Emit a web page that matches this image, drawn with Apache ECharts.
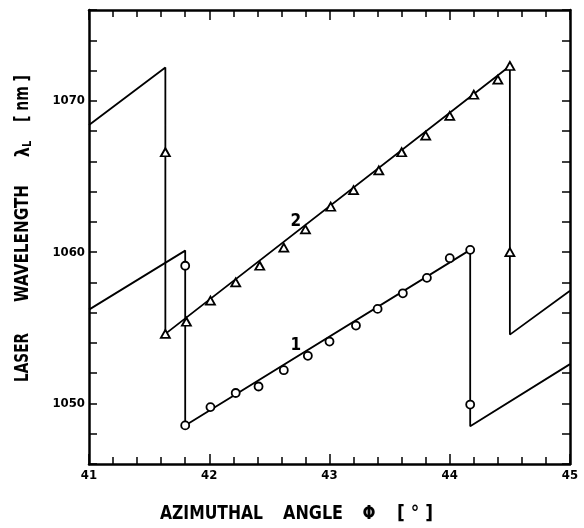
<!DOCTYPE html>
<html><head><meta charset="utf-8">
<script src="https://cdn.jsdelivr.net/npm/echarts@6/dist/echarts.min.js"></script>
<style>html,body{margin:0;padding:0;background:#fff}#c{width:584px;height:528px}</style>
</head><body><div id="c"></div>
<script>
// ---- data ----
// sawtooth line belonging to curve 2 (triangles), drawn in order
const branch2X = [41, 41.635, 41.635, 44.5, 44.5, 45];
const branch2Y = [1068.4, 1072.2, 1054.6, 1072.3, 1054.55, 1057.45];
// sawtooth line belonging to curve 1 (circles)
const branch1X = [41, 41.8, 41.8, 44.17, 44.17, 45];
const branch1Y = [1056.2, 1060.1, 1048.55, 1060.15, 1048.5, 1052.6];
// measured points, curve 2 (triangles)
const triX = [41.635, 41.635, 41.81, 42.01, 42.22, 42.42, 42.62, 42.80, 43.01, 43.20, 43.41, 43.60, 43.80, 44.00, 44.20, 44.40, 44.50, 44.50];
const triY = [1066.6, 1054.6, 1055.4, 1056.8, 1058.0, 1059.1, 1060.3, 1061.5, 1063.0, 1064.1, 1065.4, 1066.6, 1067.7, 1069.0, 1070.4, 1071.4, 1072.3, 1060.0];
// measured points, curve 1 (circles)
const circX = [41.8, 41.8, 42.01, 42.22, 42.41, 42.62, 42.82, 43.00, 43.22, 43.40, 43.61, 43.81, 44.00, 44.17, 44.17];
const circY = [1059.1, 1048.55, 1049.76, 1050.69, 1051.12, 1052.2, 1053.15, 1054.09, 1055.15, 1056.25, 1057.28, 1058.3, 1059.6, 1060.15, 1049.93];
// curve labels
const curveNames = ['1', '2'];
const curveLabelX = [42.72, 42.72];
const curveLabelY = [1053.85, 1062.0];
// axis tick labels
const xTickLabels = [41, 42, 43, 44, 45];
const yTickLabels = [1050, 1060, 1070];

const FONT = "'DejaVu Sans Condensed','Liberation Sans Narrow','Arial Narrow',sans-serif";
const zip = (a, b) => a.map((v, i) => [v, b[i]]);

const chart = echarts.init(document.getElementById('c'), null, {renderer: 'canvas'});

const axisLine = {show: true, lineStyle: {color: '#000', width: 2.5}};
const xBase = {
  type: 'value', min: 41, max: 45, interval: 1,
  axisLine: axisLine, splitLine: {show: false},
  axisTick: {show: true, inside: true, length: 10, lineStyle: {color: '#000', width: 1.5}},
  minorTick: {show: true, splitNumber: 5, length: 7, lineStyle: {color: '#000', width: 1.5}}
};
const yBase = {
  type: 'value', min: 1046, max: 1076, interval: 2,
  axisLine: axisLine, splitLine: {show: false},
  axisTick: {show: true, inside: true, length: 8, lineStyle: {color: '#000', width: 1.5}}
};

// title words, each squeezed to the length it has in the figure
const TF = 20;
const measureCtx = document.createElement('canvas').getContext('2d');
measureCtx.font = 'bold ' + TF + 'px ' + FONT;
function word(text, cx, cy, len, rot) {
  const w = measureCtx.measureText(text).width;
  return {type: 'text', x: cx, y: cy, rotation: rot || 0, scaleX: len / w, scaleY: 1,
    style: {text: text, fontFamily: FONT, fontWeight: 'bold', fontSize: TF, fill: '#000',
      textAlign: 'center', textVerticalAlign: 'middle'}};
}

chart.setOption({
  animation: false,
  backgroundColor: '#fff',
  grid: {left: 89, right: 14, top: 10, bottom: 64},
  xAxis: [
    Object.assign({}, xBase, {position: 'bottom',
      axisLabel: {show: true, margin: 5, color: '#000', fontFamily: FONT, fontWeight: 'bold', fontSize: 13,
        formatter: v => xTickLabels.includes(Math.round(v)) ? String(Math.round(v)) : ''}}),
    Object.assign({}, xBase, {position: 'top', axisLabel: {show: false}})
  ],
  yAxis: [
    Object.assign({}, yBase, {position: 'left',
      axisLabel: {show: true, margin: 4, color: '#000', fontFamily: FONT, fontWeight: 'bold', fontSize: 13,
        formatter: v => yTickLabels.includes(v) ? String(v) : ''}}),
    Object.assign({}, yBase, {position: 'right', axisLabel: {show: false}})
  ],
  graphic: [
    word('AZIMUTHAL', 211.5, 514, 103),
    word('ANGLE', 313, 514, 60),
    word('Φ', 369, 514, 13),
    word('[ ° ]', 415, 514, 36),
    word('LASER', 22.5, 357.5, 49, Math.PI / 2),
    word('WAVELENGTH', 22.5, 243.5, 117, Math.PI / 2),
    {type: 'text', x: 24, y: 149, rotation: Math.PI / 2, scaleX: 0.9,
      style: {text: '{l|λ}{s|L}', textAlign: 'center', textVerticalAlign: 'middle', fill: '#000',
        rich: {l: {fontFamily: FONT, fontWeight: 'bold', fontSize: 20, height: 24, verticalAlign: 'middle'},
               s: {fontFamily: FONT, fontWeight: 'bold', fontSize: 12, height: 24, verticalAlign: 'bottom', padding: [8, 0, 0, 0]}}}},
    word('[ nm ]', 22.5, 98.5, 47, Math.PI / 2)
  ],
  series: [
    {type: 'line', data: zip(branch2X, branch2Y), showSymbol: false, symbol: 'none',
      lineStyle: {color: '#000', width: 1.8}, z: 2},
    {type: 'line', data: zip(branch1X, branch1Y), showSymbol: false, symbol: 'none',
      lineStyle: {color: '#000', width: 1.8}, z: 2},
    {type: 'scatter', data: zip(triX, triY), symbol: 'triangle', symbolSize: [9, 8],
      itemStyle: {color: '#fff', borderColor: '#000', borderWidth: 1.8, opacity: 1}, z: 3},
    {type: 'scatter', data: zip(circX, circY), symbol: 'circle', symbolSize: 8,
      itemStyle: {color: '#fff', borderColor: '#000', borderWidth: 1.8, opacity: 1}, z: 3},
    {type: 'scatter', symbolSize: 0, z: 4, silent: true,
      data: curveNames.map((n, i) => ({name: n, value: [curveLabelX[i], curveLabelY[i]]})),
      label: {show: true, position: 'inside', formatter: p => p.name, color: '#000', opacity: 1,
        fontFamily: FONT, fontWeight: 'bold', fontSize: 17}}
  ]
});
</script>
</body></html>
